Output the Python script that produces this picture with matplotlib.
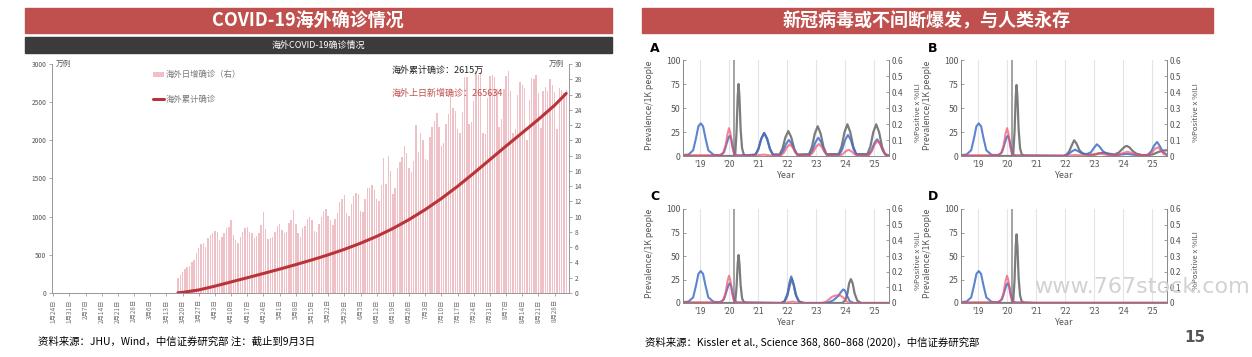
import numpy as np
import pandas as pd
import matplotlib
matplotlib.use("Agg")
import matplotlib.pyplot as plt
from matplotlib.patches import Rectangle

plt.rcParams['font.family'] = ['Noto Sans CJK SC', 'DejaVu Sans']

# ---------------- data: left chart (overseas COVID-19, unit 万例) ----------------
axis_start = "2020-01-24"
axis_end = "2020-09-02"
bars_start = "2020-03-18"

# daily new cases outside China (万), one row per week starting 3/18
daily_new = [
    2.0, 2.3, 2.7, 3.1, 3.4, 3.6, 4.1,
    4.3, 5.3, 5.9, 6.4, 6.5, 6.0, 7.2,
    7.6, 7.9, 8.1, 8.0, 7.0, 7.3, 7.8,
    8.5, 8.6, 9.5, 7.6, 7.0, 6.6, 7.3,
    8.0, 8.5, 8.7, 8.0, 7.9, 7.2, 7.5,
    7.9, 8.9, 10.6, 8.4, 7.1, 7.2, 7.4,
    8.0, 8.8, 9.0, 8.2, 7.9, 8.0, 9.2,
    9.5, 10.9, 9.0, 7.8, 7.3, 8.5, 8.8,
    9.7, 10.0, 9.5, 8.1, 8.0, 9.0, 10.0,
    10.7, 11.0, 10.1, 9.6, 8.9, 9.7, 10.5,
    11.9, 12.3, 12.9, 10.5, 10.1, 11.6, 12.7,
    13.1, 13.0, 10.8, 10.6, 12.3, 13.7, 13.8,
    14.2, 13.5, 12.3, 12.0, 14.1, 17.7, 14.3,
    17.9, 16.0, 13.0, 13.8, 16.4, 17.2, 17.8,
    19.3, 18.3, 16.4, 15.9, 17.3, 22.0, 18.5,
    20.9, 20.0, 17.5, 17.4, 20.5, 21.8, 22.5,
    23.6, 21.8, 19.3, 19.7, 22.2, 23.5, 26.0,
    24.3, 23.8, 21.5, 21.0, 23.7, 28.3, 28.3,
    22.2, 22.4, 25.2, 29.1, 28.6, 28.9, 21.0,
    20.8, 25.5, 28.4, 28.5, 28.3, 26.7, 21.7,
    22.8, 26.7, 28.4, 29.1, 26.5, 20.9, 21.5,
    26.0, 27.6, 27.3, 26.9, 20.1, 25.3, 28.2,
    28.0, 28.6, 26.2, 21.6, 26.5, 27.0, 26.5,
    28.0, 27.2, 26.3, 21.5, 26.9, 26.6, 26.2,
    26.6,
]

# cumulative cases outside China (万), read at weekly points
cum_dates = ["2020-03-18", "2020-03-20", "2020-03-27", "2020-04-03", "2020-04-10",
             "2020-04-17", "2020-04-24", "2020-05-01", "2020-05-08", "2020-05-15",
             "2020-05-22", "2020-05-29", "2020-06-05", "2020-06-12", "2020-06-19",
             "2020-06-26", "2020-07-03", "2020-07-10", "2020-07-17", "2020-07-24",
             "2020-07-31", "2020-08-07", "2020-08-14", "2020-08-21", "2020-08-28",
             "2020-09-02"]
cum_values = [3, 8, 40, 90, 145, 200, 256, 313, 372, 434, 500, 572, 652, 742, 845,
              962, 1093, 1238, 1398, 1570, 1748, 1926, 2100, 2275, 2460, 2615]

left_ticks = [0, 500, 1000, 1500, 2000, 2500, 3000]
right_ticks = list(range(0, 31, 2))

# ---------------- data: right panels (Kissler et al.) ----------------
years = [2019, 2020, 2021, 2022, 2023, 2024, 2025]
year_labels = ["'19", "'20", "'21", "'22", "'23", "'24", "'25"]
lockdown_year = 2020.18

# shared 2018-2020 part (all curves read on the prevalence scale)
blue_early_t = [2018.43, 2018.62, 2018.78, 2018.88, 2018.96, 2019.04, 2019.12, 2019.20,
                2019.30, 2019.48, 2019.72, 2019.84, 2019.93, 2020.00, 2020.04, 2020.09,
                2020.14, 2020.20, 2020.30]
blue_early_v = [1, 1.5, 6, 19, 31, 34, 31, 19, 6, 1.2, 1, 4, 13, 19.5, 21, 17.5, 9, 2.5, 0.5]
red_early_t = [2018.43, 2019.68, 2019.80, 2019.89, 2019.96, 2020.01, 2020.06, 2020.11,
               2020.17, 2020.26]
red_early_v = [0.8, 0.8, 2.5, 10, 23, 29, 24, 12, 3, 0.5]
gray_early_t = [2018.43, 2020.19, 2020.23, 2020.27, 2020.31, 2020.34, 2020.37, 2020.41,
                2020.46, 2020.52, 2020.62]
gray_early_a = [0, 0, 4, 25, 62, 75, 62, 28, 8, 1.5, 0.3]
gray_early_b = [0, 0, 4, 25, 61, 74, 61, 28, 8, 1.5, 0.3]
gray_early_c = [0, 0, 3, 17, 42, 51, 42, 19, 5, 1, 0.2]
gray_early_d = [0, 0, 4, 24, 60, 73, 60, 27, 8, 1.5, 0.3]

# panel A, after 2020
a_gray_t = [2020.92, 2021.02, 2021.12, 2021.22, 2021.32, 2021.42, 2021.52,
            2021.75, 2021.85, 2021.95, 2022.05, 2022.15, 2022.25, 2022.35,
            2022.76, 2022.86, 2022.96, 2023.06, 2023.16, 2023.26, 2023.36,
            2023.78, 2023.88, 2023.98, 2024.08, 2024.18, 2024.28, 2024.38,
            2024.77, 2024.87, 2024.97, 2025.07, 2025.17, 2025.27, 2025.37, 2025.51]
a_gray_v = [1.4, 7.2, 18, 24, 18, 7.2, 1.4,
            1.6, 7.8, 19.5, 26, 19.5, 7.8, 1.6,
            1.9, 9.3, 23.3, 31, 23.3, 9.3, 1.9,
            2, 9.9, 24.8, 33, 24.8, 9.9, 2,
            2, 9.9, 24.8, 33, 24.8, 9.9, 2, 0.4]
a_blue_t = [2020.92, 2021.02, 2021.12, 2021.22, 2021.32, 2021.42, 2021.52,
            2021.77, 2021.87, 2021.97, 2022.07, 2022.17, 2022.27, 2022.37,
            2022.78, 2022.88, 2022.98, 2023.08, 2023.18, 2023.28, 2023.38,
            2023.80, 2023.90, 2024.00, 2024.10, 2024.20, 2024.30, 2024.40,
            2024.80, 2024.90, 2025.00, 2025.10, 2025.20, 2025.30, 2025.40, 2025.51]
a_blue_v = [1.4, 7.2, 18, 24, 18, 7.2, 1.4,
            1, 5, 12.5, 16.7, 12.5, 5, 1,
            1.1, 5.7, 14.3, 19, 14.3, 5.7, 1.1,
            1.3, 6.6, 16.5, 22, 16.5, 6.6, 1.3,
            1, 5.2, 13, 17.4, 13, 5.2, 1, 0.3]
a_red_t = [2020.90, 2021.20, 2021.50,
           2021.80, 2021.90, 2022.00, 2022.10, 2022.20, 2022.30, 2022.40,
           2022.80, 2022.90, 2023.00, 2023.10, 2023.20, 2023.30, 2023.40,
           2023.82, 2023.92, 2024.02, 2024.12, 2024.22, 2024.32, 2024.42,
           2024.82, 2024.92, 2025.02, 2025.12, 2025.22, 2025.32, 2025.42, 2025.51]
a_red_v = [0.3, 1.5, 0.3,
           0.7, 3.6, 9, 12, 9, 3.6, 0.7,
           0.8, 3.8, 9.4, 12.5, 9.4, 3.8, 0.8,
           0.4, 2, 4.9, 6.5, 4.9, 2, 0.4,
           1, 4.8, 12, 16, 12, 4.8, 1, 0.3]

# panel B
b_gray_t = [2021.95, 2022.05, 2022.15, 2022.25, 2022.32, 2022.40, 2022.50, 2022.62, 2022.80,
            2023.05, 2023.20, 2023.35, 2023.50, 2023.70, 2023.85, 2023.95, 2024.05, 2024.13,
            2024.22, 2024.32, 2024.45, 2024.65, 2024.90, 2025.05, 2025.20, 2025.35, 2025.51]
b_gray_v = [0, 1, 5, 12, 16.4, 13, 6, 2.5, 1.2,
            1.5, 2.8, 3.5, 2.5, 1.5, 3.5, 6.5, 9.5, 10.5,
            9, 5.5, 2.5, 1, 1, 2, 4, 5.5, 6]
b_blue_t = [2021.95, 2022.10, 2022.25, 2022.35, 2022.45, 2022.60, 2022.75, 2022.90, 2023.00,
            2023.10, 2023.20, 2023.32, 2023.50, 2023.80, 2024.00, 2024.15, 2024.30, 2024.60,
            2024.85, 2024.97, 2025.07, 2025.17, 2025.27, 2025.37, 2025.51]
b_blue_v = [0.3, 1.5, 5, 6.6, 5, 2.5, 2, 4, 8.5,
            12.2, 9.5, 4.5, 1.5, 1, 1.8, 2.2, 1.5, 0.6,
            1, 5, 11, 14.6, 10, 4, 1.5]
b_red_t = [2021.95, 2022.35, 2022.70, 2023.00, 2023.15, 2023.30, 2023.50, 2023.80, 2024.00,
           2024.15, 2024.30, 2024.50, 2024.80, 2025.00, 2025.12, 2025.20, 2025.30, 2025.40,
           2025.51]
b_red_v = [0.2, 1, 0.5, 1.5, 3, 2, 0.8, 1, 3,
           4.5, 3, 1, 0.8, 4, 8, 9, 6, 2, 0.5]

# panel C
c_gray_t = [2021.80, 2021.92, 2022.02, 2022.10, 2022.17, 2022.24, 2022.32, 2022.42, 2022.60,
            2023.90, 2024.00, 2024.08, 2024.14, 2024.20, 2024.26, 2024.33, 2024.42, 2024.55,
            2025.51]
c_gray_v = [0, 1.5, 8, 19, 25.8, 19, 8, 1.5, 0,
            0, 2.5, 10, 21, 25.4, 21, 10, 2.5, 0, 0]
c_blue_t = [2021.80, 2021.92, 2022.02, 2022.09, 2022.15, 2022.22, 2022.30, 2022.40, 2022.55,
            2023.30, 2023.45, 2023.60, 2023.75, 2023.88, 2023.94, 2024.00, 2024.08, 2024.16,
            2024.30, 2025.51]
c_blue_v = [0, 2, 10, 22, 28.3, 21, 9, 2, 0,
            0, 0.8, 3, 7, 12.5, 14.5, 13, 7, 2, 0, 0]
c_red_t = [2021.90, 2022.10, 2022.20, 2022.35, 2022.60, 2023.20, 2023.35, 2023.45, 2023.55,
           2023.65, 2023.75, 2023.85, 2023.95, 2024.02, 2024.10, 2024.25, 2025.51]
c_red_v = [0, 1, 1.5, 0.4, 0, 0, 1.5, 4, 6.5,
           7.8, 8.2, 7.8, 5.5, 2.5, 0.5, 0, 0]

# panel D: nothing after 2020
d_gray_t = [2021.00, 2025.51]
d_gray_v = [0, 0]
d_blue_t = [2021.00, 2025.51]
d_blue_v = [0, 0]
d_red_t = [2021.00, 2025.51]
d_red_v = [0.3, 0.3]

# ---------------- figure ----------------
W, H = 1252, 357
fig = plt.figure(figsize=(W / 100, H / 100), dpi=100)
fig.patch.set_facecolor("white")


def box(x0, y0, x1, y1):
    return [x0 / W, 1 - y1 / H, (x1 - x0) / W, (y1 - y0) / H]


def fx(x):
    return x / W


def fy(y):
    return 1 - y / H


def band(x0, y0, x1, y1, color):
    fig.patches.append(Rectangle((fx(x0), fy(y1)), (x1 - x0) / W, (y1 - y0) / H,
                                 transform=fig.transFigure, color=color, zorder=0))


# headers
band(25, 8, 612, 33, "#c0504d")
fig.text(fx(308), fy(21), "COVID-19海外确诊情况", color="white", fontsize=13,
         fontweight="bold", ha="center", va="center")
band(25, 37, 612, 53, "#3b3b3b")
fig.text(fx(318), fy(45), "海外COVID-19确诊情况", color="white", fontsize=6.5,
         ha="center", va="center")
band(642, 8, 1213, 33, "#c0504d")
fig.text(fx(927), fy(21), "新冠病毒或不间断爆发，与人类永存", color="white", fontsize=13,
         fontweight="bold", ha="center", va="center")

# ---------------- left chart ----------------
ax = fig.add_axes(box(52, 64, 569, 293))
ax2 = ax.twinx()
ax.set_zorder(ax2.get_zorder() + 1)
ax.patch.set_visible(False)

t0 = pd.Timestamp(axis_start)
n_days = (pd.Timestamp(axis_end) - t0).days
bar_days = (pd.date_range(bars_start, periods=len(daily_new)) - t0).days
ax2.bar(bar_days, daily_new, width=0.62, color="#efc0c5", label="海外日增确诊（右）")
cum_days = (pd.to_datetime(cum_dates) - t0).days
ax.plot(cum_days, cum_values, color="#b8343b", lw=2.2, label="海外累计确诊",
        solid_capstyle="round", solid_joinstyle="round")

ax.set_xlim(-0.5, n_days + 1.2)
ax.set_ylim(0, 3000)
ax2.set_ylim(0, 30)
ax.set_yticks(left_ticks)
ax2.set_yticks(right_ticks)
tick_dates = pd.date_range(axis_start, axis_end, freq="7D")
ax.set_xticks((tick_dates - t0).days)
ax.set_xticklabels([f"{d.month}月{d.day}日" for d in tick_dates], rotation=90)
for a in (ax, ax2):
    for s in a.spines.values():
        s.set_color("#9a9a9a")
        s.set_linewidth(0.7)
    a.spines["top"].set_visible(False)
    a.tick_params(colors="#9a9a9a", labelcolor="#555555", labelsize=4.8,
                  length=2.5, width=0.6, pad=1.5)
ax.tick_params(axis="x", labelsize=4.6, pad=2, labelcolor="#777777")
fig.text(fx(56), fy(64), "万例", fontsize=5.5, color="#555555", va="center")
fig.text(fx(564), fy(64), "万例", fontsize=5.5, color="#555555", va="center", ha="right")

h1, l1 = ax2.get_legend_handles_labels()
h2, l2 = ax.get_legend_handles_labels()
ax.legend(h1 + h2, l1 + l2, loc="upper left", bbox_to_anchor=(fx(150), fy(67)),
          bbox_transform=fig.transFigure, frameon=False, fontsize=6,
          labelcolor="#777777", handlelength=1.3, handleheight=0.5,
          handletextpad=0.15, labelspacing=1.9, borderaxespad=0)

fig.text(fx(392), fy(70), "海外累计确诊：2615万", fontsize=6.5, color="#222222",
         va="center")
fig.text(fx(392), fy(93), "海外上日新增确诊：265634", fontsize=6.5, color="#c0504d",
         va="center")

fig.text(fx(38), fy(342), "资料来源：JHU，Wind，中信证券研究部 注：截止到9月3日",
         fontsize=7.5, color="black", va="center")

# ---------------- right panels ----------------
panels = [
    ("A", (683, 60, 889, 156), gray_early_t + a_gray_t, gray_early_a + a_gray_v,
     blue_early_t + a_blue_t, blue_early_v + a_blue_v, red_early_t + a_red_t, red_early_v + a_red_v),
    ("B", (961, 60, 1167, 156), gray_early_t + b_gray_t, gray_early_b + b_gray_v,
     blue_early_t + b_blue_t, blue_early_v + b_blue_v, red_early_t + b_red_t, red_early_v + b_red_v),
    ("C", (683, 209, 889, 303), gray_early_t + c_gray_t, gray_early_c + c_gray_v,
     blue_early_t + c_blue_t, blue_early_v + c_blue_v, red_early_t + c_red_t, red_early_v + c_red_v),
    ("D", (961, 209, 1167, 303), gray_early_t + d_gray_t, gray_early_d + d_gray_v,
     blue_early_t + d_blue_t, blue_early_v + d_blue_v, red_early_t + d_red_t, red_early_v + d_red_v),
]

fig.text(fx(1250), fy(287), "www.767stock.com", fontsize=16, color="#d2d2d2",
         ha="right", va="center", family="DejaVu Sans", zorder=0)

for letter, (x0, y0, x1, y1), gt, gv, bt, bv, rt, rv in panels:
    pa = fig.add_axes(box(x0, y0, x1, y1))
    pa.patch.set_alpha(0)
    pr = pa.twinx()
    pa.set_xlim(2018.43, 2025.51)
    pa.set_ylim(0, 100)
    pr.set_ylim(0, 0.6)
    for yr in years:
        pa.axvline(yr, color="#e4e4e4", lw=0.8, zorder=0)
    pa.axvline(lockdown_year, color="#9c9c9c", lw=1.3, zorder=1)
    pa.plot(gt, gv, color="#6e6e6e", lw=1.6, alpha=0.9, zorder=2, solid_joinstyle="round")
    pa.plot(bt, bv, color="#3f6fc9", lw=1.5, alpha=0.85, zorder=3, solid_joinstyle="round")
    pa.plot(rt, rv, color="#f0506a", lw=1.5, alpha=0.7, zorder=4, solid_joinstyle="round")
    pa.set_xticks(years)
    pa.set_xticklabels(year_labels)
    pa.set_yticks([0, 25, 50, 75, 100])
    pr.set_yticks([0, 0.1, 0.2, 0.3, 0.4, 0.5, 0.6])
    pr.set_yticklabels(["0", "0.1", "0.2", "0.3", "0.4", "0.5", "0.6"])
    for a in (pa, pr):
        for s in a.spines.values():
            s.set_color("#8a8a8a")
            s.set_linewidth(0.7)
        a.spines["top"].set_visible(False)
        a.tick_params(colors="#8a8a8a", labelcolor="#555555", labelsize=6.3,
                      length=2, width=0.6, direction="in", pad=2)
    pr.tick_params(labelsize=6)
    pa.tick_params(axis="x", length=0, labelsize=6, pad=3)
    pa.set_xlabel("Year", fontsize=6.5, color="#555555", labelpad=1)
    pa.set_ylabel("Prevalence/1K people", fontsize=6.3, color="#555555")
    pa.yaxis.set_label_coords(-0.14, 0.53)
    pr.set_ylabel("%Positive x %ILI", fontsize=5.6, color="#555555")
    pr.yaxis.set_label_coords(1.12, 0.45)
    fig.text(fx(x0 - 33), fy(y0 - 12), letter, fontsize=9, fontweight="bold",
             color="black", va="center", family="DejaVu Sans")

fig.text(fx(1195), fy(338), "15", fontsize=11, fontweight="bold", color="#555555",
         ha="center", va="center", family="DejaVu Sans")
fig.text(fx(645), fy(342), "资料来源：Kissler et al., Science 368, 860–868 (2020)，中信证券研究部",
         fontsize=7.5, color="black", va="center")

fig.savefig("out.png", dpi=100)
